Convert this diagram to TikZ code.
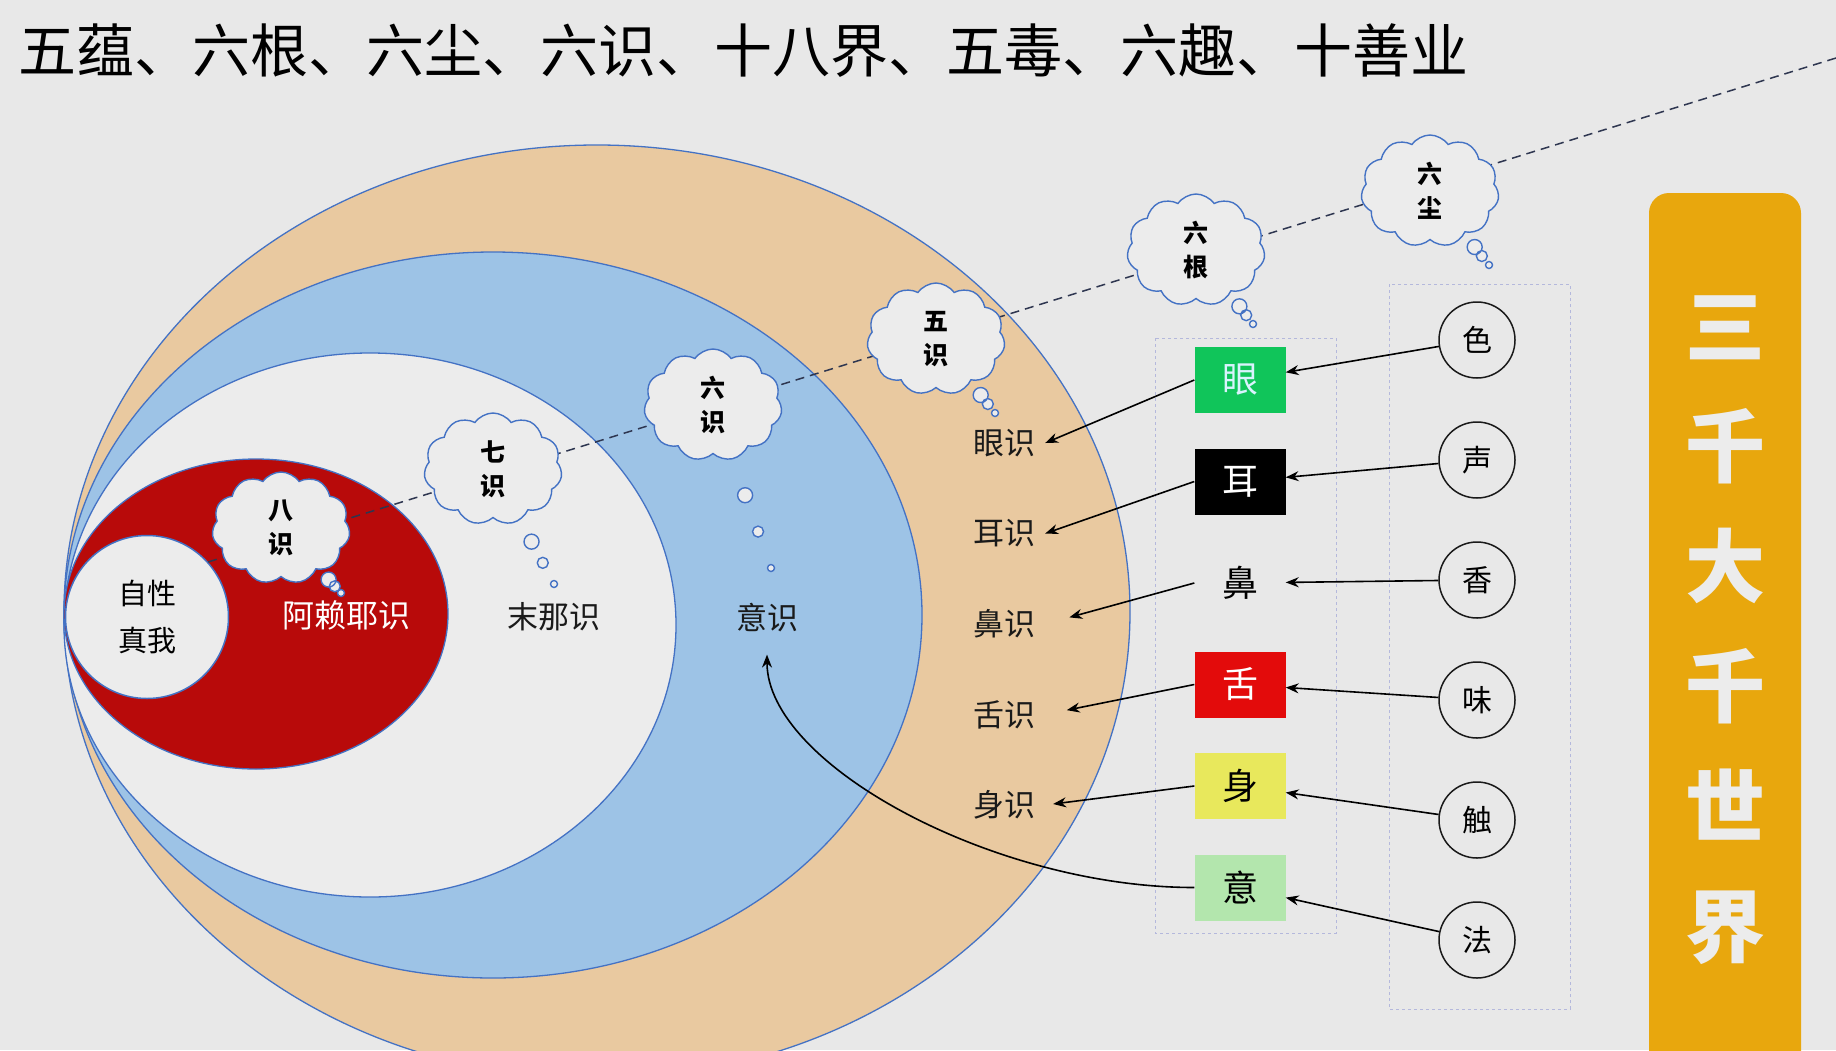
\documentclass[tikz,border=0pt]{standalone}
\usepackage{fontspec}
\usepackage{xcolor}
\usepackage{tikz}
\usetikzlibrary{shapes,arrows.meta,positioning}
\newfontfamily\cjk{Noto Sans CJK SC}
\definecolor{bgcol}{HTML}{E8E8E8}
\definecolor{tancol}{HTML}{E9C9A0}
\definecolor{skycol}{HTML}{9DC3E6}
\definecolor{palecol}{HTML}{ECECEC}
\definecolor{alayacol}{HTML}{B80A0A}
\definecolor{ringcol}{HTML}{4472C4}
\definecolor{eyecol}{HTML}{10C55A}
\definecolor{tonguecol}{HTML}{E30B0B}
\definecolor{bodycol}{HTML}{E8E85C}
\definecolor{mindcol}{HTML}{B3E6AD}
\definecolor{bannercol}{HTML}{E8A70D}
\definecolor{groupcol}{HTML}{B4B8DC}
\definecolor{dashcol}{HTML}{2E3650}
\definecolor{inkcol}{HTML}{1A1A1A}
\tikzstyle{ring} = [draw=ringcol, line width=1.3pt]
\tikzstyle{thought} = [cloud callout, draw=ringcol, fill=palecol, line width=1.4pt, cloud puffs=11, cloud puff arc=110, cloud ignores aspect, minimum width=138pt, minimum height=112pt, inner sep=0pt, align=center, font=\cjk\bfseries\fontsize{25}{34}\selectfont, callout pointer segments=3, callout pointer start size=19pt, callout pointer end size=7pt]
\tikzstyle{gen} = [rectangle, minimum width=91pt, minimum height=66pt, inner sep=0pt, font=\cjk\fontsize{36}{36}\selectfont]
\tikzstyle{chen} = [circle, draw=inkcol, line width=1.5pt, minimum size=76pt, inner sep=0pt, font=\cjk\fontsize{30}{30}\selectfont]
\tikzstyle{shi} = [font=\cjk\fontsize{31}{31}\selectfont, text=inkcol, inner sep=10pt]
\tikzstyle{groupbox} = [draw=groupcol, dashed, line width=1pt]
\tikzstyle{arrow} = [line width=1.6pt, ->, >={Stealth[length=13pt,width=10pt]}]
\begin{document}
\begin{tikzpicture}[x=1pt, y=1pt, node distance=101.5pt]
    \fill [bgcol] (0,0) rectangle (1836,-1050);
    \useasboundingbox (0,0) rectangle (1836,-1050);
    \clip (0,0) rectangle (1836,-1050);

    % Title
    \node [anchor=west, inner sep=0pt, font=\cjk\fontsize{58}{58}\selectfont] (title) at (18,-51) {五蕴、六根、六尘、六识、十八界、五毒、六趣、十善业};

    % Nested consciousness rings
    \filldraw [ring, fill=tancol] (597,-612) ellipse [x radius=533, y radius=467];
    \filldraw [ring, fill=skycol] (493,-615) ellipse [x radius=429, y radius=363];
    \filldraw [ring, fill=palecol] (370,-625) ellipse [x radius=306, y radius=272];
    \filldraw [ring, fill=alayacol] (256,-614) ellipse [x radius=192, y radius=155];
    \node [circle, draw=ringcol, line width=1.5pt, fill=palecol, minimum size=163pt, align=center, font=\cjk\fontsize{29}{47}\selectfont] (zixing) at (147,-617) {自性\\真我};

    % Dashed axis
    \coordinate (corner) at (1836,-58);
    \draw [dashcol, line width=1.5pt, dash pattern=on 9pt off 6pt] (zixing.42) -- (corner);

    % Thought clouds
    \node [thought, callout absolute pointer={(341,-593)}] (bashi) at (281,-528) {八\\识};
    \node [thought, callout absolute pointer={(554,-584)}] (qishi) at (493,-469) {七\\识};
    \node [thought, callout absolute pointer={(771,-568)}] (liushi) at (713,-405) {六\\识};
    \node [thought, callout absolute pointer={(995,-413)}] (wushi) at (936,-339) {五\\识};
    \node [thought, callout absolute pointer={(1253,-324)}] (liugen) at (1196,-250) {六\\根};
    \node [thought, callout absolute pointer={(1489,-265)}] (liuchen) at (1430,-191) {六\\尘};

    % Ring labels
    \node [font=\cjk\fontsize{32}{32}\selectfont, text=white] (alaya) at (346,-615) {阿赖耶识};
    \node [shi] (mona) at (554,-617) {末那识};
    \node [shi] (yishi) at (767,-618) {意识};

    % Five consciousnesses
    \node [shi] (yanshi) at (1004,-443) {眼识};
    \node [shi, below of=yanshi, node distance=90.5pt] (ershi) {耳识};
    \node [shi, below of=ershi, node distance=90.5pt] (bishi) {鼻识};
    \node [shi, below of=bishi, node distance=90.5pt] (sheshi) {舌识};
    \node [shi, below of=sheshi, node distance=90.5pt] (shenshi) {身识};

    % Six roots
    \draw [groupbox] (1155,-338) rectangle (1336,-933);
    \node [gen, fill=eyecol, text=white!85!cyan] (yan) at (1240,-380) {眼};
    \node [gen, fill=black, text=white, below of=yan] (er) {耳};
    \node [gen, text=black, below of=er] (bi) {鼻};
    \node [gen, fill=tonguecol, text=white, below of=bi] (she) {舌};
    \node [gen, fill=bodycol, text=black, below of=she] (shen) {身};
    \node [gen, fill=mindcol, text=black, below of=shen] (yi) {意};

    % Six dusts
    \draw [groupbox] (1389,-284) rectangle (1570,-1009);
    \node [chen] (se) at (1477,-340) {色};
    \node [chen, below of=se, node distance=120pt] (sheng) {声};
    \node [chen, below of=sheng, node distance=120pt] (xiang) {香};
    \node [chen, below of=xiang, node distance=120pt] (wei) {味};
    \node [chen, below of=wei, node distance=120pt] (chu) {触};
    \node [chen, below of=chu, node distance=120pt] (fa) {法};

    % Banner
    \fill [bannercol, rounded corners=20pt] (1649,-193) rectangle (1801,-1090);
    \node [align=center, text=palecol, font=\cjk\bfseries\fontsize{80}{120}\selectfont] (world) at (1725,-630) {三\\千\\大\\千\\世\\界};

    % Connections
    \draw [arrow] (se) -- (yan);
    \draw [arrow] (sheng) -- (er);
    \draw [arrow] (xiang) -- (bi);
    \draw [arrow] (wei) -- (she);
    \draw [arrow] (chu) -- (shen);
    \draw [arrow] (fa) -- (yi);
    \draw [arrow] (yan.west) -- (yanshi.east);
    \draw [arrow] (er.west) -- (ershi.east);
    \draw [arrow, shorten >=25pt] (bi.west) -- (bishi.east);
    \draw [arrow, shorten >=22pt] (she.west) -- (sheshi.east);
    \draw [arrow, shorten >=8pt] (shen.west) -- (shenshi.east);
    \draw [arrow] (yi.west) .. controls +(-200,0) and +(0,-110) .. ([yshift=-12pt]yishi.south);
\end{tikzpicture}
\end{document}
